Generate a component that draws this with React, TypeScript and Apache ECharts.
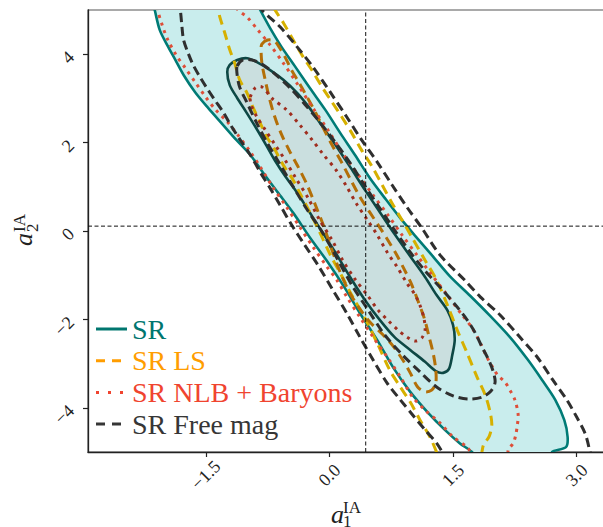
import React, { useEffect, useRef } from 'react';
import * as echarts from 'echarts';

const xTicks = [-1.5, 0.0, 1.5, 3.0];
const yTicks = [-4, -2, 0, 2, 4];
const xRange = [-2.93, 3.38];
const yRange = [-5, 5];
const refPoint = [0.44, 0.11];
const legendNames = ['SR', 'SR LS', 'SR NLB + Baryons', 'SR Free mag'];

const srOuter = [
  [-2.15, 5.23], [-2.12, 5.0], [-2.06, 4.55], [-1.97, 4.21], [-1.87, 3.87], [-1.77, 3.53], [-1.63, 3.14], [-1.47, 2.78], [-1.3, 2.42], [-1.13, 2.06], [-0.96, 1.72], [-0.81, 1.33], [-0.63, 0.88], [-0.44, 0.41], [-0.24, -0.14], [-0.03, -0.68], [0.18, -1.27], [0.37, -1.86], [0.58, -2.47], [0.77, -3.08], [0.98, -3.64], [1.2, -4.12], [1.4, -4.5], [1.58, -4.8], [1.73, -5.0], [1.8, -5.18],
  [2.74, -5.18], [2.7, -5.0], [2.87, -4.89], [2.89, -4.66], [2.85, -4.28], [2.74, -3.82], [2.58, -3.37], [2.41, -2.92], [2.19, -2.4], [1.95, -1.92], [1.71, -1.47], [1.46, -1.02], [1.24, -0.54], [1.04, -0.11], [0.86, 0.29], [0.67, 0.75], [0.49, 1.2], [0.31, 1.72], [0.13, 2.22], [-0.05, 2.74], [-0.24, 3.24], [-0.42, 3.73], [-0.58, 4.16], [-0.72, 4.59], [-0.84, 5.0], [-0.9, 5.23],
];
const srInner = [
  [-1.21, 3.76], [-1.24, 3.6], [-1.21, 3.3], [-1.12, 3.01], [-1.01, 2.69], [-0.89, 2.33], [-0.77, 1.95], [-0.65, 1.56], [-0.53, 1.22], [-0.39, 0.86], [-0.26, 0.48], [-0.12, 0.07], [0.07, -0.48], [0.25, -1.04], [0.43, -1.56], [0.61, -2.01], [0.79, -2.4], [0.98, -2.69], [1.16, -2.96], [1.29, -3.17], [1.38, -3.21], [1.45, -3.12], [1.49, -2.81], [1.52, -2.47], [1.5, -2.13], [1.43, -1.79], [1.3, -1.45], [1.16, -1.04], [0.98, -0.57], [0.79, -0.07], [0.61, 0.43], [0.43, 0.93], [0.25, 1.45], [0.09, 1.9], [-0.08, 2.35], [-0.24, 2.78], [-0.39, 3.12], [-0.56, 3.42], [-0.72, 3.64], [-0.88, 3.82], [-1.0, 3.91], [-1.12, 3.87],
];
const lsOuter = [
  [-1.38, 5.23], [-1.35, 5.0], [-1.33, 4.84], [-1.27, 4.48], [-1.21, 4.1], [-1.15, 3.8], [-1.09, 3.42], [-1.0, 3.12], [-0.93, 2.81], [-0.84, 2.44], [-0.76, 2.13], [-0.66, 1.83], [-0.56, 1.49], [-0.44, 1.15], [-0.36, 0.86], [-0.24, 0.43], [-0.12, -0.02], [0.01, -0.54], [0.13, -0.95], [0.27, -1.45], [0.43, -1.97], [0.59, -2.58], [0.73, -3.14], [0.86, -3.53], [0.98, -3.87], [1.1, -4.28], [1.22, -4.66], [1.3, -5.0], [1.34, -5.18],
  [1.83, -5.18], [1.85, -5.0], [1.87, -4.84], [1.94, -4.64], [1.97, -4.39], [1.95, -4.1], [1.89, -3.71], [1.79, -3.3], [1.67, -2.76], [1.55, -2.24], [1.43, -1.67], [1.3, -1.11], [1.16, -0.66], [1.0, -0.14], [0.88, 0.25], [0.76, 0.63], [0.64, 1.04], [0.52, 1.45], [0.39, 1.83], [0.27, 2.22], [0.15, 2.58], [0.03, 2.92], [-0.09, 3.26], [-0.2, 3.6], [-0.32, 3.94], [-0.44, 4.32], [-0.56, 4.71], [-0.66, 5.0], [-0.72, 5.23],
];
const lsInner = [
  [-0.82, 4.23], [-0.75, 4.32], [-0.67, 4.3], [-0.61, 4.16], [-0.54, 3.94], [-0.46, 3.64], [-0.36, 3.33], [-0.26, 2.99], [-0.16, 2.65], [-0.07, 2.31], [0.03, 1.95], [0.14, 1.58], [0.26, 1.15], [0.37, 0.77], [0.48, 0.45], [0.59, 0.14], [0.7, -0.18], [0.81, -0.52], [0.9, -0.84], [0.99, -1.18], [1.07, -1.56], [1.15, -1.97], [1.21, -2.4], [1.26, -2.78], [1.29, -3.14], [1.29, -3.44], [1.24, -3.6], [1.16, -3.64], [1.07, -3.53], [0.98, -3.21], [0.89, -2.92], [0.77, -2.6], [0.64, -2.33], [0.49, -2.06], [0.36, -1.74], [0.24, -1.38], [0.13, -0.93], [0.03, -0.43], [-0.07, 0.11], [-0.18, 0.63], [-0.27, 1.04], [-0.38, 1.45], [-0.49, 1.83], [-0.59, 2.22], [-0.67, 2.62], [-0.73, 3.01], [-0.78, 3.42], [-0.82, 3.8], [-0.83, 4.1],
];
const nlbOuter = [
  [-2.06, 5.23], [-2.08, 5.0], [-2.03, 4.66], [-1.96, 4.32], [-1.86, 3.98], [-1.75, 3.69], [-1.63, 3.37], [-1.51, 3.05], [-1.38, 2.74], [-1.24, 2.47], [-1.11, 2.17], [-0.96, 1.79], [-0.84, 1.45], [-0.69, 1.0], [-0.52, 0.54], [-0.36, 0.09], [-0.2, -0.36], [-0.03, -0.81], [0.09, -1.11], [0.21, -1.49], [0.37, -1.95], [0.53, -2.4], [0.7, -2.85], [0.86, -3.3], [1.01, -3.76], [1.16, -4.05], [1.34, -4.34], [1.5, -4.66], [1.67, -4.89], [1.73, -5.07], [1.77, -5.23],
  [2.15, -5.23], [2.17, -4.95], [2.23, -4.8], [2.26, -4.62], [2.28, -4.39], [2.29, -4.16], [2.25, -3.82], [2.19, -3.6], [2.13, -3.42], [2.04, -3.26], [1.98, -3.08], [1.91, -2.85], [1.83, -2.53], [1.73, -2.19], [1.61, -1.9], [1.43, -1.45], [1.24, -0.99], [1.06, -0.54], [0.88, -0.09], [0.71, 0.36], [0.53, 0.81], [0.35, 1.27], [0.16, 1.76], [-0.02, 2.29], [-0.2, 2.78], [-0.38, 3.3], [-0.56, 3.8], [-0.72, 4.21], [-0.87, 4.55], [-1.0, 4.84], [-1.11, 5.0], [-1.18, 5.23],
];
const nlbInner = [
  [-0.96, 3.03], [-0.9, 3.24], [-0.82, 3.26], [-0.69, 2.99], [-0.52, 2.74], [-0.36, 2.4], [-0.21, 2.06], [-0.07, 1.72], [0.08, 1.38], [0.21, 1.0], [0.33, 0.61], [0.46, 0.25], [0.58, -0.09], [0.7, -0.48], [0.82, -0.81], [0.94, -1.18], [1.04, -1.45], [1.11, -1.74], [1.15, -2.01], [1.16, -2.24], [1.12, -2.42], [1.04, -2.49], [0.94, -2.4], [0.83, -2.24], [0.72, -2.04], [0.59, -1.79], [0.46, -1.45], [0.31, -1.09], [0.16, -0.66], [0.03, -0.2], [-0.12, 0.25], [-0.26, 0.75], [-0.41, 1.2], [-0.54, 1.61], [-0.66, 1.95], [-0.78, 2.29], [-0.88, 2.58], [-0.95, 2.85],
];
const freeOuter = [
  [-1.84, 5.23], [-1.81, 5.0], [-1.79, 4.62], [-1.77, 4.32], [-1.72, 4.05], [-1.66, 3.78], [-1.58, 3.51], [-1.49, 3.24], [-1.39, 2.96], [-1.29, 2.69], [-1.2, 2.4], [-1.09, 2.08], [-0.96, 1.72], [-0.84, 1.33], [-0.72, 0.97], [-0.6, 0.59], [-0.46, 0.14], [-0.3, -0.32], [-0.14, -0.77], [0.04, -1.33], [0.21, -1.86], [0.37, -2.4], [0.53, -2.92], [0.7, -3.44], [0.86, -3.82], [1.0, -4.14], [1.16, -4.5], [1.3, -4.8], [1.39, -5.07], [1.44, -5.23],
  [3.17, -5.23], [3.15, -4.91], [3.1, -4.57], [3.0, -4.21], [2.88, -3.82], [2.71, -3.37], [2.52, -2.85], [2.31, -2.4], [2.07, -1.9], [1.83, -1.49], [1.64, -1.11], [1.34, -0.54], [1.12, 0.07], [0.94, 0.54], [0.76, 1.04], [0.58, 1.56], [0.39, 2.06], [0.21, 2.58], [0.01, 3.14], [-0.2, 3.71], [-0.39, 4.16], [-0.6, 4.62], [-0.82, 5.0], [-0.89, 5.23],
];
const freeInner = [
  [-1.12, 3.73], [-1.05, 3.87], [-0.94, 3.87], [-0.82, 3.78], [-0.66, 3.55], [-0.48, 3.24], [-0.3, 2.87], [-0.12, 2.47], [0.07, 2.01], [0.25, 1.54], [0.43, 1.02], [0.61, 0.52], [0.79, 0.02], [0.98, -0.48], [1.16, -0.9], [1.37, -1.33], [1.55, -1.72], [1.67, -2.01], [1.77, -2.31], [1.85, -2.62], [1.92, -2.87], [1.98, -3.14], [2.01, -3.42], [1.96, -3.62], [1.85, -3.76], [1.68, -3.8], [1.5, -3.73], [1.3, -3.53], [1.1, -3.19], [0.89, -2.81], [0.67, -2.35], [0.47, -1.79], [0.27, -1.22], [0.09, -0.61], [-0.09, -0.02], [-0.27, 0.48], [-0.44, 1.0], [-0.61, 1.54], [-0.76, 2.01], [-0.89, 2.47], [-1.0, 2.9], [-1.09, 3.26], [-1.12, 3.53],
];

const FONT = "'Liberation Serif', 'DejaVu Serif', serif";

function contour(name: string, pts: number[][], style: any) {
  return {
    type: 'custom',
    name,
    coordinateSystem: 'cartesian2d',
    clip: true,
    silent: true,
    data: [pts[0]],
    renderItem: (_params: any, api: any) => {
      const points = pts.map((p) => api.coord(p));
      return {
        type: 'polygon',
        shape: { points, smooth: 0.3 },
        style: Object.assign({ fill: 'none', stroke: 'none' }, style),
      };
    },
  };
}

function txt(x: number, y: number, text: string, font: string, fill: string, lineHeight?: number) {
  const style: any = { text, font, fill, align: 'left', verticalAlign: 'middle', textAlign: 'left', textVerticalAlign: 'middle' };
  if (lineHeight) style.lineHeight = lineHeight;
  return { type: 'text', x, y, z: 100, style };
}

const legendStyles = [
  { color: '#00766f', dash: null as any },
  { color: '#ff9d00', dash: [9, 7] },
  { color: '#f0442f', dash: [3, 9] },
  { color: '#363636', dash: [9, 7] },
];

export default function App() {
  const ref = useRef<HTMLDivElement>(null);
  useEffect(() => {
    const chart = echarts.init(ref.current!, null, { renderer: 'svg' });
    const legendGraphics: any[] = [];
    legendNames.forEach((name, i) => {
      const cy = 329 + i * 31.7;
      const st = legendStyles[i];
      legendGraphics.push({
        type: 'line',
        z: 100,
        shape: { x1: 96, y1: cy, x2: 127, y2: cy },
        style: { stroke: st.color, lineWidth: 3, lineDash: st.dash || undefined },
      });
      legendGraphics.push(txt(132, cy, name, `28px ${FONT}`, st.color));
    });
    const option: any = {
      animation: false,
      backgroundColor: '#fff',
      grid: {
        left: 88, top: 10, right: -5, bottom: 75,
        show: true, borderColor: '#555', borderWidth: 1.2,
        containLabel: false, outerBoundsMode: 'none',
      },
      xAxis: {
        type: 'value', min: xRange[0], max: xRange[1],
        axisLine: { show: true, onZero: false, lineStyle: { color: '#222', width: 1.3 } },
        axisTick: { show: true, customValues: xTicks, length: 5, lineStyle: { color: '#222', width: 1.2 } },
        axisLabel: {
          customValues: xTicks, rotate: 45, align: 'center', verticalAlign: 'middle', margin: 23,
          fontFamily: FONT, fontSize: 18, color: '#222',
          formatter: (v: number) => (v < 0 ? '\u2212' : '') + Math.abs(v).toFixed(1),
        },
        splitLine: { show: false },
      },
      yAxis: {
        type: 'value', min: yRange[0], max: yRange[1],
        axisLine: { show: true, onZero: false, lineStyle: { color: '#222', width: 1.3 } },
        axisTick: { show: true, customValues: yTicks, length: 5, lineStyle: { color: '#222', width: 1.2 } },
        axisLabel: {
          customValues: yTicks, rotate: 45, margin: 17,
          fontFamily: FONT, fontSize: 18, color: '#222',
          formatter: (v: number) => (v < 0 ? '\u2212' : '') + Math.abs(v).toString(),
        },
        splitLine: { show: false },
      },
      series: [
        contour('SR fill 95', srOuter, { fill: '#c9eded' }),
        contour('SR fill 68', srInner, { fill: '#cadfdf' }),
        contour('SR 95', srOuter, { stroke: '#007b76', lineWidth: 2.6 }),
        contour('SR 68', srInner, { stroke: '#0d4845', lineWidth: 2.6 }),
        contour('SR LS 95', lsOuter, { stroke: '#d6b000', lineWidth: 3, lineDash: [10, 6] }),
        contour('SR LS 68', lsInner, { stroke: '#b36f08', lineWidth: 3, lineDash: [10, 6] }),
        contour('SR NLB 95', nlbOuter, { stroke: '#de4e38', lineWidth: 3, lineDash: [3, 5] }),
        contour('SR NLB 68', nlbInner, { stroke: '#9f2e1f', lineWidth: 3, lineDash: [3, 5] }),
        contour('SR Free mag 95', freeOuter, { stroke: '#2f2f2f', lineWidth: 3, lineDash: [9, 5] }),
        contour('SR Free mag 68', freeInner, { stroke: '#2f2f2f', lineWidth: 3, lineDash: [9, 5] }),
        {
          type: 'line', silent: true, symbol: 'none',
          data: [[refPoint[0], yRange[0]], [refPoint[0], yRange[1]]],
          lineStyle: { color: '#111', width: 1, type: [4, 2.5] },
        },
        {
          type: 'line', silent: true, symbol: 'none',
          data: [[xRange[0], refPoint[1]], [xRange[1], refPoint[1]]],
          lineStyle: { color: '#111', width: 1, type: [4, 2.5] },
        },
      ],
      graphic: [
        ...legendGraphics,
        txt(331, 514, 'a', `italic 26px ${FONT}`, '#222', 20),
        txt(343, 507, 'IA', `17px ${FONT}`, '#222', 11),
        txt(343, 521, '1', `17px ${FONT}`, '#222', 11),
        {
          type: 'group', x: 33, y: 246, rotation: Math.PI / 2, z: 100,
          children: [
            txt(0, -10, 'a', `italic 26px ${FONT}`, '#222', 20),
            txt(14, -14, 'IA', `17px ${FONT}`, '#222', 11),
            txt(14, -1, '2', `17px ${FONT}`, '#222', 11),
          ],
        },
      ],
    };
    chart.setOption(option);
    return () => chart.dispose();
  }, []);
  return (
    <div
      ref={ref}
      style={{ position: 'fixed', left: 0, top: 0, width: 603, height: 527, background: '#fff' }}
    />
  );
}
